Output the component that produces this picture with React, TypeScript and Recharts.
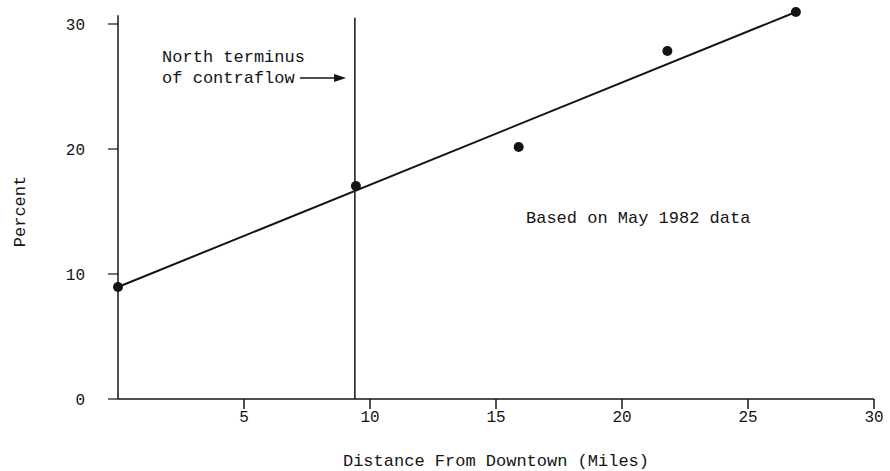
import React from 'react';
import { ComposedChart, XAxis, YAxis, Scatter, Line, ReferenceLine, ReferenceDot } from 'recharts';

const distanceMiles = [0, 9.44, 15.9, 21.8, 26.9];
const percentValues = [8.96, 17.04, 20.16, 27.84, 30.96];
const trendDistance = [0, 26.9];
const trendPercent = [8.96, 30.96];
const xTicks = [5, 10, 15, 20, 25, 30];
const yTicks = [0, 10, 20, 30];
const terminusMile = 9.4;
const terminusTop = 30.5;
const yAxisTop = 30.7;
const noteLines = ['North terminus', 'of contraflow'];
const noteX = 1.75;
const noteY = [27.44, 25.76];
const arrowFrom = 7.22;
const arrowTo = 9.05;
const arrowY = 25.68;
const basisText = 'Based on May 1982 data';
const basisX = 16.19;
const basisY = 14.56;
const xTitle = 'Distance From Downtown (Miles)';
const yTitle = 'Percent';

const points = distanceMiles.map((x, i) => ({ x, y: percentValues[i] }));
const trend = trendDistance.map((x, i) => ({ x, y: trendPercent[i] }));

const FONT = '"Liberation Mono", "DejaVu Sans Mono", monospace';
const INK = '#141414';

const textShape = (txt: string) => (p: any) => (
  <text x={p.cx} y={p.cy} dy="0.35em" fontFamily={FONT} fontSize={17} fill={INK} textAnchor="start">
    {txt}
  </text>
);

const arrowShape = (p: any) => {
  const { x1, y1, x2, y2 } = p;
  return (
    <g>
      <line x1={x1} y1={y1} x2={x2 - 10} y2={y2} stroke={INK} strokeWidth={1.5} />
      <polygon points={`${x2},${y2} ${x2 - 12},${y2 - 4} ${x2 - 12},${y2 + 4}`} fill={INK} />
    </g>
  );
};

export default function App() {
  return (
    <div style={{ position: 'absolute', top: 0, left: 8, background: '#fff', width: 882, height: 471 }}>
      <ComposedChart
        width={882}
        height={471}
        margin={{ top: 8, right: 16, bottom: 42, left: 0 }}
      >
        <XAxis
          type="number"
          dataKey="x"
          domain={[0, 30]}
          ticks={xTicks}
          height={30}
          tickSize={10}
          tickMargin={2}
          axisLine={{ stroke: INK, strokeWidth: 1.5 }}
          tickLine={{ stroke: INK, strokeWidth: 1.5 }}
          tick={{ fill: INK, fontFamily: FONT, fontSize: 16 }}
          label={(props: any) => {
            const vb = props.viewBox;
            return (
              <text x={vb.x + vb.width / 2} y={vb.y + vb.height + 37} textAnchor="middle" fontFamily={FONT} fontSize={17} fill={INK}>
                {xTitle}
              </text>
            );
          }}
        />
        <YAxis
          type="number"
          domain={[0, 31.28]}
          ticks={yTicks}
          width={110}
          tickSize={10}
          tickMargin={23}
          axisLine={false}
          tickLine={{ stroke: INK, strokeWidth: 1.2 }}
          tick={{ fill: INK, fontFamily: FONT, fontSize: 16 }}
          label={(props: any) => {
            const vb = props.viewBox;
            const cx = vb.x + 11;
            const cy = vb.y + vb.height / 2 + 8;
            return (
              <text x={cx} y={cy} transform={`rotate(-90 ${cx} ${cy})`} textAnchor="middle" dy="0.35em" fontFamily={FONT} fontSize={17} fill={INK}>
                {yTitle}
              </text>
            );
          }}
        />
        <ReferenceLine
          segment={[{ x: 0, y: 0 }, { x: 0, y: yAxisTop }]}
          stroke={INK}
          strokeWidth={1.5}
          ifOverflow="visible"
        />
        <ReferenceLine
          segment={[{ x: terminusMile, y: 0 }, { x: terminusMile, y: terminusTop }]}
          stroke={INK}
          strokeWidth={1.5}
          ifOverflow="visible"
        />
        <ReferenceLine
          segment={[{ x: arrowFrom, y: arrowY }, { x: arrowTo, y: arrowY }]}
          shape={arrowShape}
          ifOverflow="visible"
        />
        <Line
          data={trend}
          dataKey="y"
          type="linear"
          stroke={INK}
          strokeWidth={2}
          dot={false}
          activeDot={false}
          isAnimationActive={false}
        />
        <Scatter
          data={points}
          dataKey="y"
          fill={INK}
          isAnimationActive={false}
          shape={(p: any) => <circle cx={p.cx} cy={p.cy} r={5} fill={INK} />}
        />
        {noteLines.map((t, i) => (
          <ReferenceDot key={t} x={noteX} y={noteY[i]} r={0} ifOverflow="visible" shape={textShape(t)} />
        ))}
        <ReferenceDot x={basisX} y={basisY} r={0} ifOverflow="visible" shape={textShape(basisText)} />
      </ComposedChart>
    </div>
  );
}
